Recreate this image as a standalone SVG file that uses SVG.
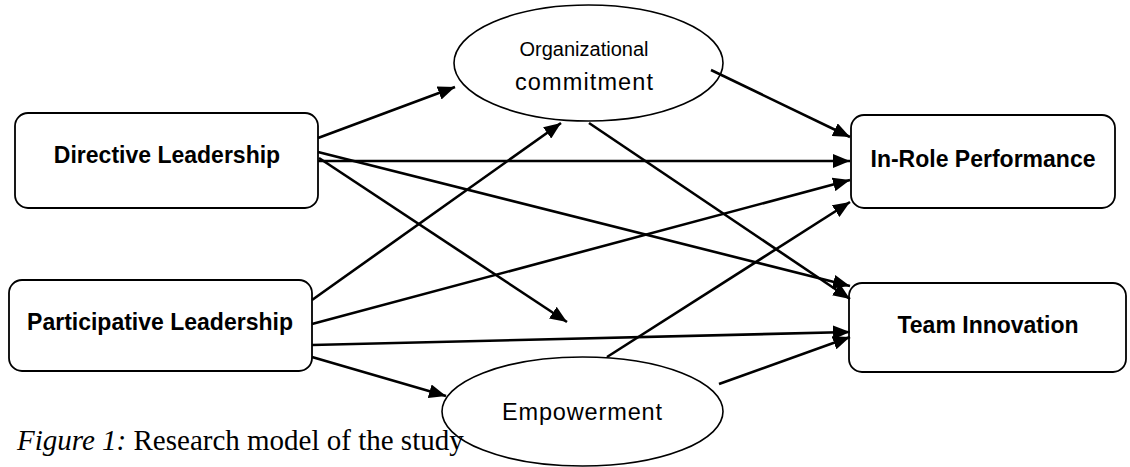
<svg xmlns="http://www.w3.org/2000/svg" width="1130" height="467" viewBox="0 0 1130 467">
<style>
.box{fill:#fff;stroke:#000;stroke-width:1.8}
.ell{fill:#fff;stroke:#000;stroke-width:1.6}
.bt{font-family:"Liberation Sans",Arial,sans-serif;font-weight:bold;font-size:23px;text-anchor:middle;fill:#000}
.et{font-family:"Liberation Sans",Arial,sans-serif;text-anchor:middle;fill:#000}
.cap{font-family:"Liberation Serif","Times New Roman",serif;font-size:29px;fill:#000}
.con line{stroke:#000;stroke-width:2.6;marker-end:url(#ah)}
</style>
<defs>
<marker id="ah" markerUnits="userSpaceOnUse" markerWidth="18" markerHeight="14" refX="17" refY="7" orient="auto">
<path d="M0,0 L17,7 L0,14 z" fill="#000"/>
</marker>
</defs>
<rect width="1130" height="467" fill="#fff"/>
<g id="org-commitment">
<ellipse class="ell" cx="588.5" cy="63" rx="134.5" ry="58"/>
<text class="et" x="584" y="56" font-size="20">Organizational</text>
<text class="et" x="584" y="90" font-size="23.5" textLength="138" lengthAdjust="spacing">commitment</text>
</g>
<g id="empowerment">
<ellipse class="ell" cx="582.5" cy="411.5" rx="140.5" ry="54.5"/>
<text class="et" x="582" y="420" font-size="23.5" textLength="160" lengthAdjust="spacing">Empowerment</text>
</g>
<g id="directive">
<rect class="box" x="15" y="113" width="303" height="95" rx="13"/>
<text class="bt" x="167" y="163">Directive Leadership</text>
</g>
<g id="participative">
<rect class="box" x="9" y="280" width="303" height="91" rx="13"/>
<text class="bt" x="160" y="330">Participative Leadership</text>
</g>
<g id="in-role">
<rect class="box" x="851" y="115" width="264" height="93" rx="13"/>
<text class="bt" x="983" y="167">In-Role Performance</text>
</g>
<g id="team-innovation">
<rect class="box" x="849" y="283" width="277" height="89" rx="13"/>
<text class="bt" x="988" y="333">Team Innovation</text>
</g>
<g id="connectors" class="con">
<line x1="318" y1="138" x2="455" y2="87"/>
<line x1="318" y1="161" x2="850" y2="161"/>
<line x1="318" y1="152" x2="850" y2="286"/>
<line x1="319" y1="158" x2="567" y2="322"/>
<line x1="589" y1="123" x2="850" y2="299"/>
<line x1="711" y1="70" x2="850" y2="137"/>
<line x1="312" y1="300" x2="561" y2="123"/>
<line x1="312" y1="324" x2="850" y2="180"/>
<line x1="312" y1="345" x2="850" y2="332"/>
<line x1="312" y1="357" x2="446" y2="396"/>
<line x1="607" y1="357" x2="850" y2="202"/>
<line x1="719" y1="384" x2="850" y2="337"/>
</g>
<text class="cap" x="17" y="450"><tspan font-style="italic">Figure 1:</tspan> Research model of the study</text>
</svg>
